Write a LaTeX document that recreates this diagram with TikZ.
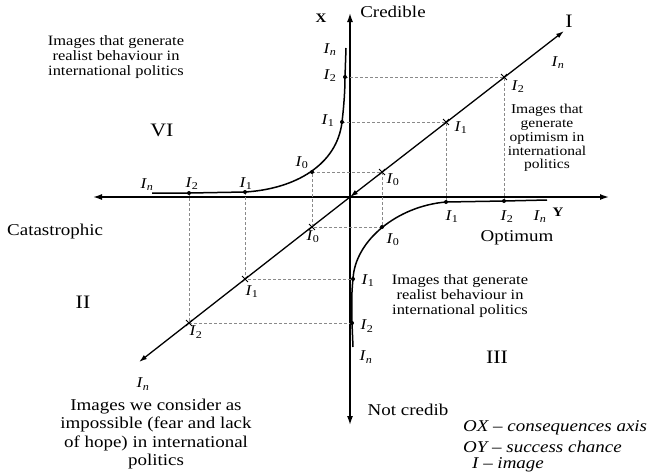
\documentclass[tikz,border=0pt]{standalone}
\usepackage{fontspec}
\setmainfont[FakeStretch=1.15]{Liberation Serif}
\usepackage{tikz}
\usetikzlibrary{arrows.meta,shapes.misc}
\definecolor{guidegray}{HTML}{8A8A8A}
\newcommand\lblfont{\fontsize{15}{16}\selectfont}
\newcommand\smallbl{\fontsize{14.3}{14.8}\selectfont}
\newcommand\bigbl{\fontsize{16.5}{18.5}\selectfont}
\newcommand\romfont{\fontsize{19}{20}\selectfont}
\newcommand\Ilab[1]{\textit{I}\textsubscript{#1}}
\newcommand\Inlab{\Ilab{\textit{n}}}

\begin{document}
\begin{tikzpicture}[x=1pt,y=-1pt,
  axis/.style={line width=1.5pt,{Latex[length=9pt,width=6pt]}-{Latex[length=9pt,width=6pt]}},
  diag/.style={line width=1.3pt},
  curve/.style={line width=1.5pt},
  guide/.style={guidegray,line width=0.6pt,dash pattern=on 3pt off 2pt},
  crossmk/.style={draw,cross out,line width=0.9pt,minimum size=5pt,inner sep=0pt},
  lab/.style={font=\lblfont,inner sep=1pt},
  block/.style={font=\smallbl,align=center,inner sep=0pt}]
  \useasboundingbox (0,0) rectangle (653,475);
  % axes
  \coordinate (O) at (350,197);
  \coordinate (xtop) at (350,13);
  \coordinate (xbot) at (350,425);
  \coordinate (yleft) at (93,197);
  \coordinate (yright) at (609,197);
  \draw[axis] (xbot) -- (xtop);
  \draw[axis] (yleft) -- (yright);
  % image line
  \coordinate (dtop) at (564,31);
  \coordinate (dbot) at (139,362);
  \draw[diag,{Latex[length=8pt,width=5pt]}-{Latex[length=8pt,width=5pt]}] (O) -- (dtop);
  \draw[diag,-{Latex[length=8pt,width=5pt]}] (O) -- (dbot);
  % points on the curves
  \coordinate (cIn) at (152,193);
  \coordinate (cI2) at (189,193);
  \coordinate (cI1) at (245,192);
  \coordinate (cI0) at (312,172);
  \coordinate (cJ1) at (342,122);
  \coordinate (cJ2) at (345,77);
  \coordinate (cJn) at (346,48);
  \coordinate (dIn) at (547,200);
  \coordinate (dI2) at (504,201);
  \coordinate (dI1) at (446,202);
  \coordinate (dI0) at (382,227);
  \coordinate (eI1) at (353,279);
  \coordinate (eI2) at (352,323);
  \coordinate (eIn) at (353,347);
  % points on the image line
  \coordinate (gI0) at (382,172);
  \coordinate (gI1) at (446,122);
  \coordinate (gI2) at (504,77);
  \coordinate (hI0) at (312,227);
  \coordinate (hI1) at (245,279);
  \coordinate (hI2) at (189,323);
  % dashed projections
  \draw[guide] (cI0) -- (gI0) -- (dI0) -- (hI0) -- cycle;
  \draw[guide] (cJ1) -- (gI1) -- (dI1);
  \draw[guide] (cJ2) -- (gI2) -- (dI2);
  \draw[guide] (cI1) -- (hI1) -- (eI1);
  \draw[guide] (cI2) -- (hI2) -- (eI2);
  % curves
  \draw[curve] (cIn) -- (cI2) -- (cI1) .. controls (295,189) and (337,165) .. (cJ1)
    .. controls (344,105) and (345,90) .. (cJ2) -- (cJn);
  \draw[curve] (dIn) -- (dI2) -- (dI1) .. controls (398,206) and (355,240) .. (eI1)
    .. controls (351,298) and (352,310) .. (eI2) -- (eIn);
  \foreach \p in {cI2,cI1,cI0,cJ1,cJ2,dI2,dI1,dI0,eI1,eI2}
    \fill (\p) circle (2);
  \foreach \p in {gI0,gI1,gI2,hI0,hI1,hI2}
    \node[crossmk] (x\p) at (\p) {};
  % labels of the points
  \node[lab] (lcJn) at (330,50) {\Inlab};
  \node[lab] (lcJ2) at (330,76) {\Ilab{2}};
  \node[lab] (lcJ1) at (328,121) {\Ilab{1}};
  \node[lab] (lcI0) at (302,163) {\Ilab{0}};
  \node[lab] (lcIn) at (147,185) {\Inlab};
  \node[lab] (lcI2) at (192,184) {\Ilab{2}};
  \node[lab] (lcI1) at (246,184) {\Ilab{1}};
  \node[lab] (lgI0) at (393,180) {\Ilab{0}};
  \node[lab] (lgI1) at (461,128) {\Ilab{1}};
  \node[lab] (lgI2) at (518,87) {\Ilab{2}};
  \node[lab] (lgIn) at (558,63) {\Inlab};
  \node[lab] (ldI1) at (452,217) {\Ilab{1}};
  \node[lab] (ldI2) at (507,217) {\Ilab{2}};
  \node[lab] (ldIn) at (540,217) {\Inlab};
  \node[lab] (ldI0) at (393,240) {\Ilab{0}};
  \node[lab] (lhI0) at (313,237) {\Ilab{0}};
  \node[lab] (lhI1) at (252,292) {\Ilab{1}};
  \node[lab] (lhI2) at (196,332) {\Ilab{2}};
  \node[lab] (lhIn) at (143,384) {\Inlab};
  \node[lab] (leI1) at (368,281) {\Ilab{1}};
  \node[lab] (leI2) at (367,326) {\Ilab{2}};
  \node[lab] (leIn) at (366,357) {\Inlab};
  % axis names
  \node[font=\fontsize{13}{14}\selectfont\bfseries] (xname) at (321,18) {X};
  \node[font=\fontsize{13}{14}\selectfont\bfseries] (yname) at (558,212) {Y};
  \node[font=\bigbl] (cred) at (393,12) {Credible};
  \node[font=\bigbl] (ncred) at (408,410) {Not credib};
  \node[font=\bigbl] (optim) at (517,238) {Optimum};
  \node[font=\bigbl,anchor=west,inner sep=0pt] (catas) at (7,232) {Catastrophic};
  % quadrants
  \node[font=\romfont] (qI) at (569,21) {I};
  \node[font=\romfont] (qII) at (83,302) {II};
  \node[font=\romfont] (qIII) at (497,357) {III};
  \node[font=\romfont] (qVI) at (162,130) {VI};
  % descriptions
  \node[block] (realup) at (116,57) {Images that generate\\realist behaviour in\\international politics};
  \node[block,font=\fontsize{13.5}{13.8}\selectfont] (optimism) at (547,138) {Images that\\generate\\optimism in\\international\\politics};
  \node[block] (realdown) at (460,296) {Images that generate\\realist behaviour in\\international politics};
  \node[block,font=\bigbl] (imposs) at (156,434) {Images we consider as\\impossible (fear and lack\\of hope) in international\\politics};
  % legend
  \node[font=\bigbl\itshape,anchor=west,inner sep=0pt] (legx) at (463,428) {OX -- consequences axis};
  \node[font=\bigbl\itshape,anchor=west,inner sep=0pt] (legy) at (463,447) {OY -- success chance};
  \node[font=\bigbl\itshape,anchor=west,inner sep=0pt] (legi) at (472,465) {I -- image};
\end{tikzpicture}
\end{document}
